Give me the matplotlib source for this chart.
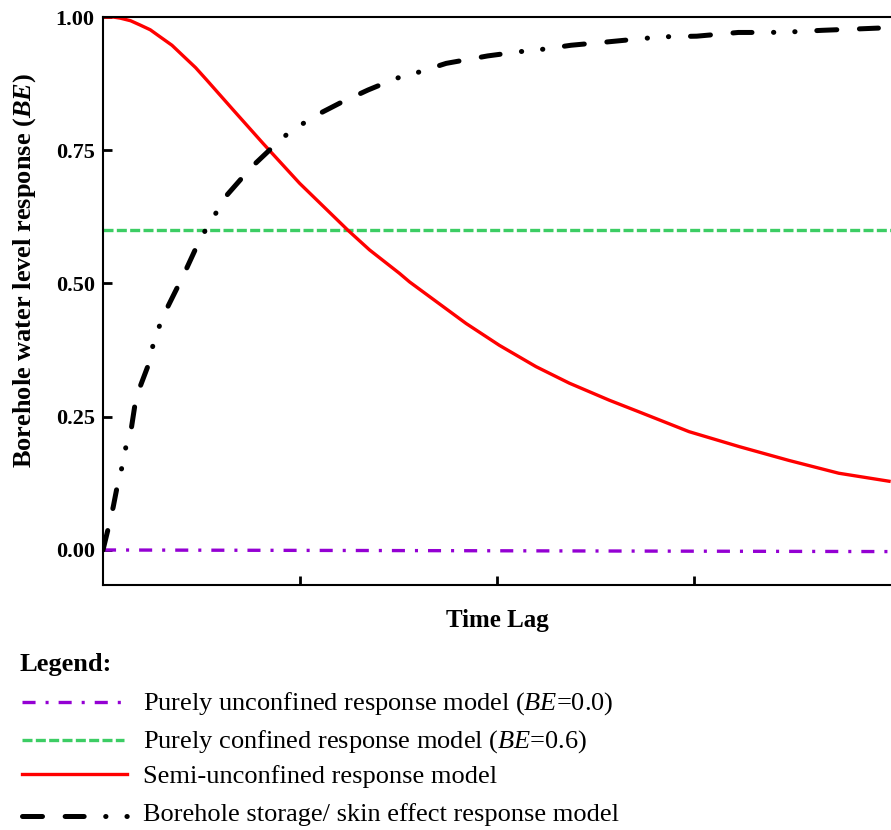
import matplotlib
matplotlib.use("Agg")
import matplotlib.pyplot as plt
from matplotlib.lines import Line2D

plt.rcParams['font.family'] = ['Liberation Serif', 'DejaVu Serif']
plt.rcParams['mathtext.fontset'] = 'custom'
plt.rcParams['mathtext.rm'] = 'Liberation Serif'
plt.rcParams['mathtext.it'] = 'Liberation Serif:italic'
plt.rcParams['mathtext.bf'] = 'Liberation Serif:bold'
plt.rcParams['mathtext.bfit'] = 'Liberation Serif:italic:bold'
plt.rcParams['lines.scale_dashes'] = False

# --- data ---
unconf_x = [0.0, 4.0]
unconf_y = [0.0, -0.003]

conf_x = [0.0, 4.0]
conf_y = [0.6, 0.6]

semi_x = [0.0, 0.05, 0.086, 0.14, 0.188, 0.24, 0.289, 0.35, 0.407, 0.47, 0.526,
          0.660, 0.812, 0.998, 1.243, 1.353, 1.505, 1.556, 1.843, 2.012, 2.198,
          2.367, 2.570, 2.722, 2.975, 3.229, 3.482, 3.735, 3.99]
semi_y = [1.0, 1.0, 0.998, 0.993, 0.985, 0.976, 0.963, 0.947, 0.927, 0.905, 0.882,
          0.826, 0.763, 0.688, 0.600, 0.563, 0.519, 0.503, 0.425, 0.384, 0.344,
          0.313, 0.281, 0.259, 0.222, 0.194, 0.168, 0.144, 0.129]

skin_x = [0.0, 0.027, 0.052, 0.072, 0.098, 0.117, 0.145, 0.162, 0.188, 0.23,
          0.255, 0.289, 0.331, 0.382, 0.424, 0.475, 0.517, 0.573, 0.627, 0.703,
          0.770, 0.850, 0.931, 1.015, 1.10, 1.205, 1.345, 1.489, 1.598, 1.742,
          1.953, 2.117, 2.223, 2.376, 2.553, 2.75, 2.857, 3.014, 3.225, 3.384,
          3.49, 3.65, 3.857, 3.99]
skin_y = [0.0, 0.041, 0.081, 0.119, 0.158, 0.195, 0.231, 0.272, 0.306, 0.347,
          0.386, 0.423, 0.458, 0.496, 0.528, 0.569, 0.598, 0.632, 0.665, 0.697,
          0.724, 0.752, 0.779, 0.800, 0.819, 0.839, 0.863, 0.885, 0.896, 0.913,
          0.927, 0.935, 0.939, 0.947, 0.953, 0.960, 0.963, 0.964, 0.971, 0.971,
          0.972, 0.975, 0.978, 0.98]

y_ticks = [0.0, 0.25, 0.5, 0.75, 1.0]
x_ticks = [1, 2, 3]

legend_labels = ['Purely unconfined response model ($BE$=0.0)',
                 'Purely confined response model ($BE$=0.6)',
                 'Semi-unconfined response model',
                 'Borehole storage/ skin effect response model']

# --- styles ---
purple_style = dict(color='#9400d3', lw=2.4, dashes=(9.4, 7.2, 2.2, 7.2))
green_style = dict(color='#3ccd64', lw=2.4, dashes=(7.2, 2.4))
red_style = dict(color='#ff0000', lw=2.4)
black_style = dict(color='black', lw=3.6, dash_capstyle='round',
                   dashes=(14.4, 16.3, 13.7, 15.5, 0.2, 15.1, 0.2, 15.7))
styles = [purple_style, green_style, red_style, black_style]

W, H = 891, 830
fig = plt.figure(figsize=(W / 100, H / 100), dpi=100)
ax = fig.add_axes([103 / W, 1 - 585 / H, 1 - 103 / W, (585 - 17) / H])

ax.plot(unconf_x, unconf_y, **purple_style)
ax.plot(conf_x, conf_y, **green_style)
ax.plot(semi_x, semi_y, **red_style)
ax.plot(skin_x, skin_y, **black_style)

ax.set_xlim(0, 4)
ax.set_ylim(-0.0657, 1.0)
ax.set_xticks(x_ticks)
ax.set_xticklabels([])
ax.set_yticks(y_ticks)
ax.set_yticklabels(['%.2f' % v for v in y_ticks], fontsize=16, fontweight='bold')
ax.tick_params(direction='in', length=6.5, width=2, pad=6)
ax.spines['right'].set_visible(False)
for s in ['left', 'bottom', 'top']:
    ax.spines[s].set_linewidth(1.5)

fig.text(497 / W, 1 - 620 / H, 'Time Lag', fontsize=18, fontweight='bold',
         ha='center', va='center')
fig.text(25 / W, 1 - 271 / H, r'Borehole water level response ($\mathbfit{BE}$)',
         fontsize=19, fontweight='bold', rotation=90, ha='center', va='center')

# --- legend drawn below the axes ---
fig.text(20 / W, 1 - 665 / H, 'Legend:', fontsize=19, fontweight='bold',
         ha='left', va='center')
row_y = [702, 740, 774, 816]
row_end = [122, 124, 127, 129]
text_y = [704, 742, 777, 815]
for st, label, ly, le, ty in zip(styles, legend_labels, row_y, row_end, text_y):
    fig.add_artist(Line2D([22 / W, le / W], [1 - ly / H, 1 - ly / H],
                          transform=fig.transFigure, **st))
    fig.text(143 / W, 1 - ty / H, label, fontsize=19, ha='left', va='center')

fig.savefig('out.png', dpi=100)
